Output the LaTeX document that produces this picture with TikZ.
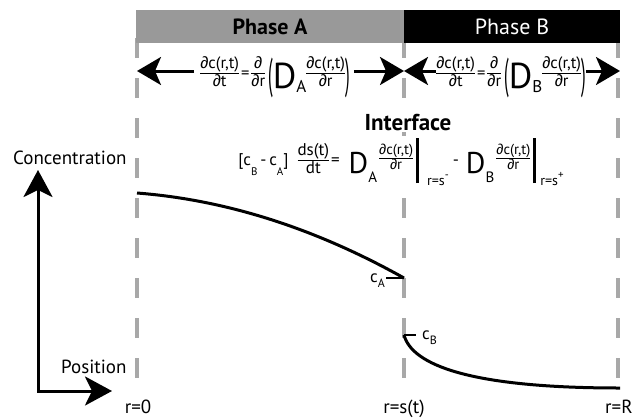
\documentclass[tikz,border=0pt]{standalone}
\usepackage{fontspec}
\usepackage{graphicx}
\setmainfont{PT Sans}
\newfontfamily\pdfont{Liberation Sans}
\usetikzlibrary{
  arrows.meta,
  positioning,
  calc
}
\definecolor{bargray}{RGB}{153,153,153}
\definecolor{dashgray}{RGB}{168,168,168}
\newcommand{\setfs}[1]{\fontsize{#1}{#1}\selectfont}
\newcommand{\pd}{{\pdfont ∂}}
\newcommand{\lift}[3]{\raisebox{#1}{\setfs{#2}#3}}
\newcommand{\fr}[2]{{\renewcommand{\arraystretch}{0.85}\setlength{\arrayrulewidth}{1.4pt}\begin{tabular}{@{}c@{}}#1\\\hline #2\end{tabular}}}
\newcommand{\tallparen}[1]{\raisebox{-10pt}{\scalebox{1}[2.6]{#1}}}
\newcommand{\diffeq}[1]{\fr{\pd c(r,t)}{\pd t}\hspace{2pt}=\hspace{2pt}\fr{\pd}{\pd r}\hspace{3pt}\tallparen{(}\lift{-10pt}{36}{D}\lift{-14pt}{17}{#1}\fr{\pd c(r,t)}{\pd r}\tallparen{)}}

\begin{document}
\begin{tikzpicture}[x=1pt, y=-1pt,
  divider/.style={draw=dashgray, line width=4.5pt, dash pattern=on 20pt off 20pt},
  flux/.style={line width=3pt, -{Stealth[length=24pt, width=28pt, inset=6pt]}},
  axis/.style={line width=3pt, {Stealth[length=27pt, width=29pt, inset=7pt]}-{Stealth[length=27pt, width=29pt, inset=7pt]}},
  curve/.style={line width=3pt},
  tick/.style={line width=2pt},
  lbl/.style={inner sep=0pt, font=\setfs{19}}]
  \path[use as bounding box, fill=white] (0,0) rectangle (632,418);

  % phase boundaries
  \foreach \x/\n in {137/L, 404/M, 618/R} {
    \coordinate (x\n) at (\x,0);
    \draw[divider] (\x,38) -- (\x,378);
  }
  \draw[fill=bargray, draw=none] (136,10) rectangle (404,43) node[midway, font=\setfs{22}\bfseries] (phaseA) {Phase A};
  \draw[fill=black, draw=none] (404,10) rectangle (620,43) node[midway, font=\setfs{22}, text=white] (phaseB) {Phase B};

  % diffusion in each phase
  \coordinate (fluxrow) at (0,71);
  \node[anchor=base, inner sep=0pt, font=\setfs{16.5}] (eqA) at (275,78) {\diffeq{A}};
  \node[anchor=base, inner sep=0pt, font=\setfs{16.5}] (eqB) at (511,78) {\diffeq{B}};
  \draw[flux] ([xshift=-6pt]eqA.west |- fluxrow) -- (xL |- fluxrow);
  \draw[flux] ([xshift=4pt]eqA.east |- fluxrow) -- (xM |- fluxrow);
  \draw[flux] (eqB.west |- fluxrow) -- (xM |- fluxrow);
  \draw[flux] (eqB.east |- fluxrow) -- ([xshift=2pt]xR |- fluxrow);

  % interface condition
  \node[anchor=base, inner sep=2pt, fill=white, font=\setfs{23}\bfseries] (iface) at (408,130) {Interface};
  \node[anchor=base, inner sep=2pt, fill=white, font=\setfs{17}] (ifeq) at (401,165) {[c\lift{-10pt}{11}{B}\,-\,c\lift{-10pt}{11}{A}]\hspace{9pt}\fr{ds(t)}{dt}\hspace{2pt}=\hspace{9pt}\lift{-8pt}{30}{D}\lift{-17pt}{15}{A}\hspace{2pt}\lift{3pt}{14.5}{\fr{\pd c(r,t)}{\pd r}}\hspace{3pt}\rule[-18pt]{3pt}{45pt}\hspace{8pt}\lift{-20pt}{14}{r=s\lift{7pt}{11}{-}}\hspace{4pt}-\hspace{7pt}\lift{-8pt}{30}{D}\lift{-17pt}{15}{B}\hspace{2pt}\lift{3pt}{14.5}{\fr{\pd c(r,t)}{\pd r}}\hspace{3pt}\rule[-18pt]{3pt}{45pt}\hspace{4pt}\lift{-20pt}{14}{r=s\lift{7pt}{11}{+}}};

  % axes
  \coordinate (origin) at (38,391);
  \coordinate (ytip) at (38,170);
  \coordinate (xtip) at (112,391);
  \draw[axis] (ytip) -- (origin) -- (xtip);
  \node[lbl, anchor=base west] (conc) at (13,164) {Concentration};
  \node[lbl, anchor=base west] (pos) at (61,373) {Position};
  \node[lbl, anchor=base] (r0) at (138,413) {r=0};
  \node[lbl, anchor=base] (rs) at (404,413) {r=s(t)};
  \node[lbl, anchor=base west] (rR) at (605,413) {r=R};

  % concentration profile
  \coordinate (cA) at (404,278);
  \coordinate (cB) at (404,335);
  \draw[curve] (137,193) .. controls (226,199.9) and (315,228.2) .. (cA);
  \draw[curve] (cB) .. controls (412,365) and (470,388) .. (620,388);
  \draw[tick] (cA) -- ++(-18,0) coordinate (cAend);
  \draw[tick] (cB) -- ++(12,0) coordinate (cBend);
  \node[anchor=base east, inner sep=1pt, font=\setfs{17}] (labA) at ([yshift=-4pt]cAend) {c\lift{-5pt}{12}{A}};
  \node[anchor=base west, inner sep=0pt, font=\setfs{17}] (labB) at ([xshift=6pt, yshift=-4pt]cBend) {c\lift{-5pt}{12}{B}};
\end{tikzpicture}
\end{document}
